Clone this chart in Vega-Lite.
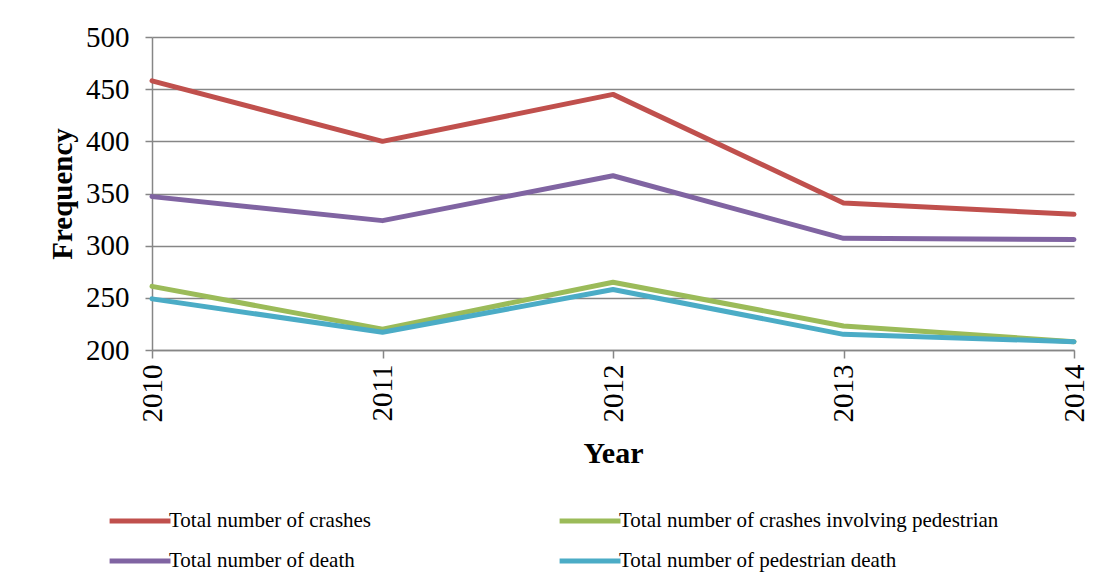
{
  "$schema": "https://vega.github.io/schema/vega-lite/v6.json",
  "autosize": "none",
  "width": 922,
  "height": 313,
  "padding": {"left": 152, "top": 37, "right": 26, "bottom": 237},
  "background": "white",
  "config": {
    "font": "Liberation Serif",
    "view": {"stroke": null},
    "axis": {"labelFont": "Liberation Serif", "titleFont": "Liberation Serif", "labelColor": "black", "titleColor": "black"}
  },
  "data": {
    "values": [
      {"Year": "2010", "Series": "Total number of crashes", "Frequency": 458},
      {"Year": "2011", "Series": "Total number of crashes", "Frequency": 400},
      {"Year": "2012", "Series": "Total number of crashes", "Frequency": 445},
      {"Year": "2013", "Series": "Total number of crashes", "Frequency": 341},
      {"Year": "2014", "Series": "Total number of crashes", "Frequency": 330},
      {"Year": "2010", "Series": "Total number of death", "Frequency": 347},
      {"Year": "2011", "Series": "Total number of death", "Frequency": 324},
      {"Year": "2012", "Series": "Total number of death", "Frequency": 367},
      {"Year": "2013", "Series": "Total number of death", "Frequency": 307},
      {"Year": "2014", "Series": "Total number of death", "Frequency": 306},
      {"Year": "2010", "Series": "Total number of crashes involving pedestrian", "Frequency": 261},
      {"Year": "2011", "Series": "Total number of crashes involving pedestrian", "Frequency": 220},
      {"Year": "2012", "Series": "Total number of crashes involving pedestrian", "Frequency": 265},
      {"Year": "2013", "Series": "Total number of crashes involving pedestrian", "Frequency": 223},
      {"Year": "2014", "Series": "Total number of crashes involving pedestrian", "Frequency": 208},
      {"Year": "2010", "Series": "Total number of pedestrian death", "Frequency": 249},
      {"Year": "2011", "Series": "Total number of pedestrian death", "Frequency": 217},
      {"Year": "2012", "Series": "Total number of pedestrian death", "Frequency": 258},
      {"Year": "2013", "Series": "Total number of pedestrian death", "Frequency": 215},
      {"Year": "2014", "Series": "Total number of pedestrian death", "Frequency": 208}
    ]
  },
  "mark": {"type": "line", "strokeWidth": 5, "strokeCap": "round", "strokeJoin": "round"},
  "encoding": {
    "x": {
      "field": "Year", "type": "ordinal",
      "scale": {"type": "point", "padding": 0},
      "axis": {
        "title": "Year", "titleFontSize": 30, "titleFontWeight": "bold", "titlePadding": 16,
        "labelAngle": -90, "labelAlign": "right", "labelBaseline": "middle", "labelFontSize": 29, "labelPadding": 6,
        "tickColor": "#868686", "tickSize": 8, "tickWidth": 1.5,
        "domainColor": "#868686", "domainWidth": 1.5, "grid": false
      }
    },
    "y": {
      "field": "Frequency", "type": "quantitative",
      "scale": {"domain": [200, 500], "nice": false, "zero": false},
      "axis": {
        "title": "Frequency", "titleFontSize": 29, "titleFontWeight": "bold", "titlePadding": 8,
        "values": [200, 250, 300, 350, 400, 450, 500],
        "labelFontSize": 29, "labelPadding": 16,
        "tickColor": "#868686", "tickSize": 7, "tickWidth": 1.5,
        "domainColor": "#868686", "domainWidth": 1.5,
        "grid": true, "gridColor": "#868686", "gridWidth": 1.5
      }
    },
    "color": {
      "field": "Series", "type": "nominal",
      "scale": {
        "domain": ["Total number of crashes", "Total number of crashes involving pedestrian", "Total number of death", "Total number of pedestrian death"],
        "range": ["#C0504D", "#9BBB59", "#8064A2", "#4BACC6"]
      },
      "legend": {
        "title": null, "orient": "none", "legendX": -13, "legendY": 467, "direction": "horizontal", "columns": 2,
        "symbolType": "M-3.2,0H1", "symbolSize": 841, "symbolStrokeWidth": 5, "symbolFillColor": "transparent",
        "labelFont": "Liberation Serif", "labelFontSize": 21, "labelColor": "black", "labelOffset": -4, "labelLimit": 600,
        "columnPadding": 177, "rowPadding": 13
      }
    }
  }
}
